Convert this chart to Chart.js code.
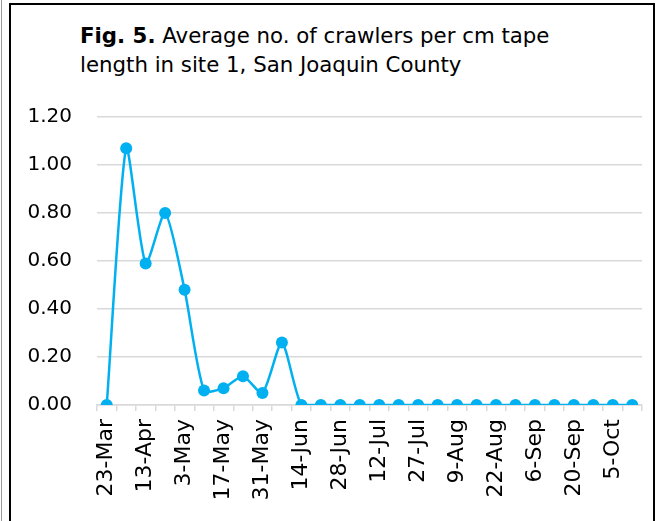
<!DOCTYPE html>
<html>
<head>
<meta charset="utf-8">
<script src="https://cdn.jsdelivr.net/npm/chart.js@4"></script>
<style>
  html, body { margin: 0; padding: 0; background: #fff; overflow: hidden; }
  #wrap { position: relative; width: 656px; height: 521px; }
  #frame { position: absolute; left: 9px; top: 3px; width: 642px; height: 540px; border: 2px solid #000; }
  #edge { position: absolute; left: 1px; top: 0; width: 1px; height: 521px; background: #9a9a9a; }
  #title { position: absolute; left: 80px; top: 21px; font-family: "DejaVu Sans", sans-serif; font-size: 21.3px; line-height: 29px; color: #000; white-space: nowrap; }
  canvas { position: absolute; left: 0; top: 0; }
</style>
</head>
<body>
<div id="wrap">
  <div id="edge"></div>
  <div id="frame"></div>
  <div id="title"><b>Fig. 5.</b> Average no. of crawlers per cm tape<br>length in site 1, San Joaquin County</div>
  <canvas id="chart5" width="656" height="521"></canvas>
</div>
<script>
  // sampling dates (every second one is shown on the axis)
  const dates = [
    "23-Mar", "3-Apr", "13-Apr", "23-Apr", "3-May", "10-May", "17-May", "24-May",
    "31-May", "7-Jun", "14-Jun", "21-Jun", "28-Jun", "5-Jul", "12-Jul", "19-Jul",
    "27-Jul", "2-Aug", "9-Aug", "16-Aug", "22-Aug", "30-Aug", "6-Sep", "13-Sep",
    "20-Sep", "27-Sep", "5-Oct", "19-Oct"
  ];

  // average crawlers per cm tape, site 1
  const crawlers = [
    0, 1.07, 0.59, 0.80, 0.48, 0.06, 0.07, 0.12,
    0.05, 0.26, 0, 0, 0, 0, 0, 0,
    0, 0, 0, 0, 0, 0, 0, 0,
    0, 0, 0, 0
  ];

  const yTicks = [0, 0.2, 0.4, 0.6, 0.8, 1.0, 1.2];

  const blue = "#00B0F0";
  const ctx = document.getElementById("chart5").getContext("2d");

  new Chart(ctx, {
    type: "line",
    data: {
      labels: dates,
      datasets: [
        {
          label: "Crawlers",
          data: crawlers,
          borderColor: blue,
          backgroundColor: blue,
          borderWidth: 2.5,
          pointRadius: 6,
          pointHoverRadius: 6,
          pointBorderWidth: 0,
          tension: 0.22,
          fill: false,
        },
      ],
    },
    options: {
      responsive: false,
      animation: false,
      events: [],
      layout: { padding: { left: 0, top: 117, right: 14, bottom: 0 } },
      plugins: {
        legend: { display: false },
        title: { display: false },
        tooltip: { enabled: false },
      },
      scales: {
        x: {
          offset: true,
          grid: {
            offset: true,
            drawOnChartArea: false,
            drawTicks: true,
            tickLength: 6,
            color: "#d9d9d9",
            lineWidth: 1.5,
          },
          border: { display: true, color: "#d9d9d9", width: 1.5 },
          ticks: {
            autoSkip: false,
            minRotation: 90,
            maxRotation: 90,
            padding: 8,
            color: "#000",
            font: { family: "DejaVu Sans", size: 22 },
            callback: (v, i) => (i % 2 === 0 ? dates[i] : ""),
          },
          afterFit: (scale) => {
            scale.height = 116;
            scale.paddingLeft = 0;
            scale.paddingRight = 0;
          },
        },
        y: {
          min: 0,
          max: 1.2,
          afterBuildTicks: (scale) => {
            scale.ticks = yTicks.map((v) => ({ value: v }));
          },
          grid: {
            drawTicks: false,
            color: "#d9d9d9",
            lineWidth: 1.5,
          },
          border: { display: false },
          ticks: {
            padding: 25,
            color: "#000",
            font: { family: "DejaVu Sans", size: 20 },
            callback: (v) => v.toFixed(2),
          },
          afterFit: (scale) => { scale.width = 97; },
        },
      },
    },
  });
</script>
</body>
</html>
